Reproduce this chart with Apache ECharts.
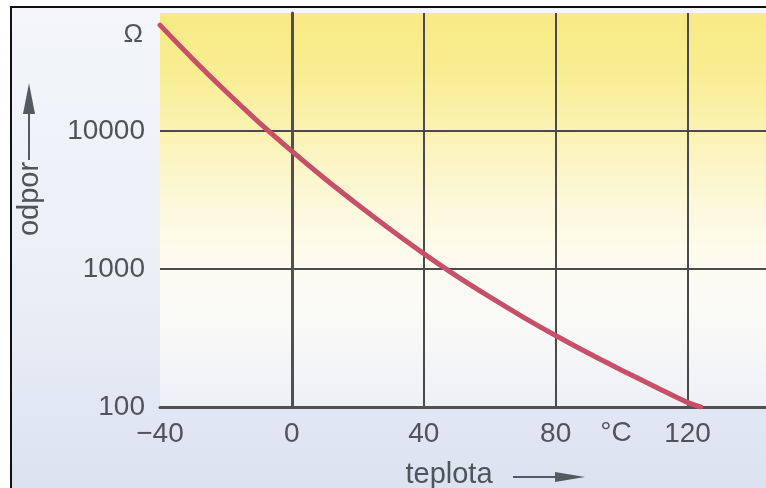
<!DOCTYPE html>
<html>
<head>
<meta charset="utf-8">
<script src="https://cdn.jsdelivr.net/npm/echarts@6/dist/echarts.min.js"></script>
<style>
html,body{margin:0;padding:0;background:#fff;}
#c{width:766px;height:488px;}
</style>
</head>
<body>
<div id="c"></div>
<script>
// Data
var temperatures = [-40, -30, -20, -10, 0, 10, 20, 30, 40, 50, 60, 70, 80, 90, 100, 110, 120, 124];
var resistance   = [58800, 33300, 19400, 11600, 7160, 4520, 2930, 1930, 1295, 889, 628, 451, 330, 245, 185, 141, 108, 100];
var xTicks = [-40, 0, 40, 80, 120];
var yTicks = [100, 1000, 10000];
var xName = 'teplota';
var yName = 'odpor';
var yUnit = 'Ω';
var xUnit = '°C';

var chart = echarts.init(document.getElementById('c'), null, {renderer: 'canvas'});
var textColor = '#4f535a';
var lineDark = '#4a4a4a';
var font = 'Liberation Sans, Arial, Helvetica, sans-serif';

var seriesData = temperatures.map(function (t, i) { return [t, resistance[i]]; });

chart.setOption({
  animation: false,
  backgroundColor: {
    type: 'linear', x: 0, y: 0, x2: 0, y2: 1,
    colorStops: [
      {offset: 0, color: '#f4f6fa'},
      {offset: 0.6, color: '#eaeef6'},
      {offset: 1, color: '#dbe3f0'}
    ]
  },
  grid: {
    left: 160, top: 13, right: 0, bottom: 81,
    show: true,
    borderWidth: 0,
    backgroundColor: {
      type: 'linear', x: 0, y: 0, x2: 0, y2: 1,
      colorStops: [
        {offset: 0, color: '#f8ea84'},
        {offset: 0.15, color: '#f9ed92'},
        {offset: 0.3, color: '#faf2b3'},
        {offset: 0.48, color: '#fcf8da'},
        {offset: 0.65, color: '#fdfcf2'},
        {offset: 0.82, color: '#f8f8f8'},
        {offset: 1, color: '#eef0f6'}
      ]
    }
  },
  xAxis: {
    type: 'value',
    min: xTicks[0],
    max: 143.8,
    interval: 40,
    axisLine: {show: true, onZero: false, lineStyle: {color: '#505050', width: 3}},
    axisTick: {show: false},
    splitLine: {show: true, showMinLine: false, showMaxLine: false, lineStyle: {color: lineDark, width: 2}},
    axisLabel: {
      showMaxLabel: false,
      margin: 13,
      color: textColor,
      fontSize: 28,
      fontFamily: font,
      formatter: function (v) {
        if (xTicks.indexOf(v) < 0) return '';
        return v < 0 ? '\u2212' + Math.abs(v) : String(v);
      }
    }
  },
  yAxis: {
    type: 'log',
    logBase: 10,
    min: yTicks[0],
    max: 72000,
    splitNumber: 3,
    axisLine: {show: true, lineStyle: {color: '#505050', width: 3}},
    axisTick: {show: false},
    splitLine: {show: true, showMinLine: false, showMaxLine: false, lineStyle: {color: lineDark, width: 2}},
    axisLabel: {
      showMaxLabel: false,
      margin: 15,
      color: textColor,
      fontSize: 28,
      fontFamily: font,
      formatter: function (v) {
        var r = Math.round(v);
        return yTicks.indexOf(r) >= 0 ? String(r) : '';
      }
    }
  },
  series: [{
    type: 'line',
    data: seriesData,
    smooth: 0.3,
    showSymbol: false,
    symbol: 'none',
    clip: true,
    lineStyle: {color: '#c75068', width: 5, cap: 'round'},
    z: 5
  }],
  graphic: [
    {type: 'rect', shape: {x: 0, y: 0, width: 10, height: 488}, style: {fill: '#ffffff'}, silent: true, z: 100},
    {type: 'rect', shape: {x: 0, y: 0, width: 766, height: 6}, style: {fill: '#ffffff'}, silent: true, z: 100},
    {type: 'line', shape: {x1: 10, y1: 7, x2: 766, y2: 7}, style: {stroke: '#111', lineWidth: 2}, silent: true, z: 101},
    {type: 'line', shape: {x1: 11, y1: 6, x2: 11, y2: 488}, style: {stroke: '#111', lineWidth: 2}, silent: true, z: 101},
    {type: 'text', x: 143, y: 35, style: {text: yUnit, fill: textColor, font: '26px ' + font, textAlign: 'right', textVerticalAlign: 'middle'}, z: 50},
    {type: 'text', x: 616, y: 433, style: {text: xUnit, fill: textColor, font: '28px ' + font, textAlign: 'center', textVerticalAlign: 'middle'}, z: 50},
    {type: 'text', x: 449, y: 475, style: {text: xName, fill: textColor, font: '29px ' + font, textAlign: 'center', textVerticalAlign: 'middle'}, z: 50},
    {type: 'line', shape: {x1: 513, y1: 477, x2: 558, y2: 477}, style: {stroke: '#555a60', lineWidth: 2}, z: 50},
    {type: 'polygon', shape: {points: [[585, 477], [555, 472], [555, 482]]}, style: {fill: '#555a60'}, z: 50},
    {type: 'text', x: 30, y: 199, rotation: Math.PI / 2, style: {text: yName, fill: textColor, font: '29px ' + font, textAlign: 'center', textVerticalAlign: 'middle'}, z: 50},
    {type: 'line', shape: {x1: 29, y1: 160, x2: 29, y2: 110}, style: {stroke: '#555a60', lineWidth: 2}, z: 50},
    {type: 'polygon', shape: {points: [[29, 83], [23, 114], [35, 114]]}, style: {fill: '#555a60'}, z: 50}
  ]
});
</script>
</body>
</html>
